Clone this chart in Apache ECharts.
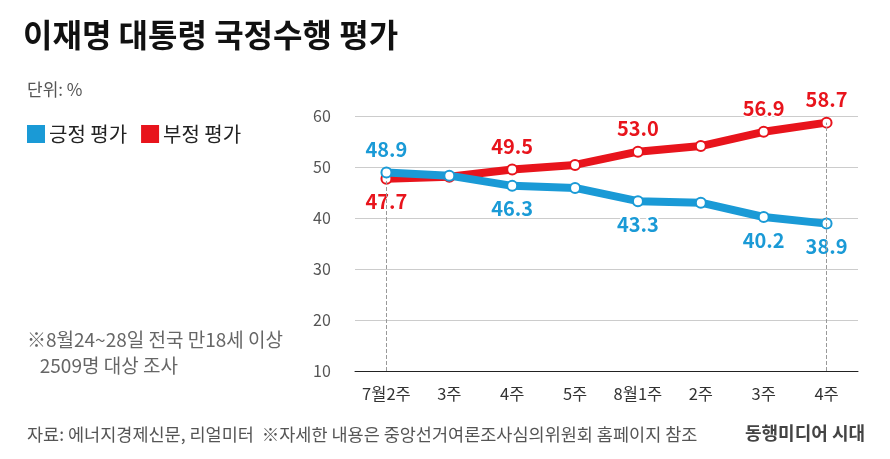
<!DOCTYPE html>
<html><head><meta charset="utf-8">
<script src="https://cdn.jsdelivr.net/npm/echarts@6/dist/echarts.min.js"></script>
<style>body{margin:0;background:#fff}#c{width:890px;height:459px}</style>
</head><body><div id="c"></div>
<script>
const categories=['7월2주','3주','4주','5주','8월1주','2주','3주','4주'];
const positive=[48.9,48.3,46.3,45.9,43.3,43.0,40.2,38.9];
const negative=[47.7,48.1,49.5,50.4,53.0,54.1,56.9,58.7];
const posLabels=[true,false,true,false,true,false,true,true];
const negLabels=[true,false,true,false,true,false,true,true];
const yTicks=[10,20,30,40,50,60];
const F='"Noto Sans CJK KR"';
const chart=echarts.init(document.getElementById('c'));
function mk(name,data,color,show,posFn){
 return {name,type:'line',data:data.map((v,i)=>({value:v,label:{show:show[i],position:posFn(i)}})),
  lineStyle:{width:8,color},itemStyle:{color:'#fff',borderColor:color,borderWidth:2},
  symbol:'circle',symbolSize:10,showSymbol:true,
  label:{color,fontSize:20,fontFamily:F,fontWeight:'bold',distance:7,textBorderColor:'#fff',textBorderWidth:3,formatter:p=>p.value.toFixed(1)},z:name==='긍정 평가'?3:2};
}
chart.setOption({
 animation:false,
 title:[{text:'이재명 대통령 국정수행 평가',left:18,top:14,textStyle:{fontFamily:F,fontSize:32,fontWeight:'bold',color:'#111'}},
  {text:'단위: %',left:22,top:76,textStyle:{fontFamily:F,fontSize:17,fontWeight:'normal',color:'#555'}},
  {text:'※8월24~28일 전국 만18세 이상\n   2509명 대상 조사',left:22,top:322,textStyle:{fontFamily:F,fontSize:19,fontWeight:'normal',color:'#666',lineHeight:26}},
  {text:'자료: 에너지경제신문, 리얼미터  ※자세한 내용은 중앙선거여론조사심의위원회 홈페이지 참조',left:22,top:421,textStyle:{fontFamily:F,fontSize:17.5,fontWeight:'normal',color:'#555'}},
  {text:'동행미디어 시대',right:20,top:419,textStyle:{fontFamily:F,fontSize:18,fontWeight:'bold',color:'#444'}}],
 legend:{left:22,top:119,itemWidth:16,itemHeight:16,itemGap:14,icon:'rect',
  textStyle:{fontFamily:F,fontSize:20,color:'#222'},data:[{name:'긍정 평가',itemStyle:{color:'#1a9ad6'}},{name:'부정 평가',itemStyle:{color:'#e8141c'}}]},
 grid:{left:355,right:32,top:116,bottom:88},
 xAxis:{type:'category',data:categories,axisLine:{show:true,lineStyle:{color:'#222'}},axisTick:{show:false},
  axisLabel:{interval:0,hideOverlap:false,fontFamily:F,fontSize:16.5,color:'#333',margin:14}},
 yAxis:{type:'value',min:10,max:60,interval:10,
  axisLabel:{fontFamily:F,fontSize:16,color:'#555',align:'left',margin:42,formatter:v=>yTicks.includes(v)?v:''},
  splitLine:{lineStyle:{color:'#ccc'}}},
 series:[
  mk('부정 평가',negative,'#e8141c',negLabels,i=>i===0?'bottom':'top'),
  mk('긍정 평가',positive,'#1a9ad6',posLabels,i=>i===0?'top':'bottom'),
  {type:'line',data:[],markLine:{silent:true,symbol:'none',label:{show:false},
   lineStyle:{color:'#999',type:'dashed',width:1},
   data:[[{coord:[0,10]},{coord:[0,47.7]}],[{coord:[7,10]},{coord:[7,58.7]}]]}}
 ]
});
</script></body></html>
